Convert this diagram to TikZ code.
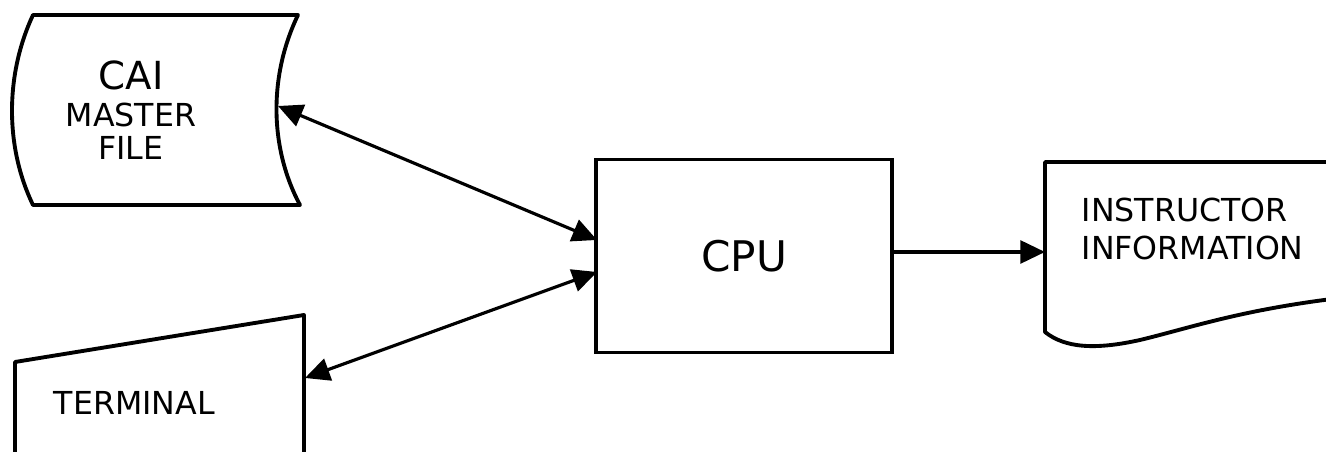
\documentclass[tikz,border=0pt]{standalone}
\usepackage{fontspec}
\setmainfont{DejaVu Sans}
\usetikzlibrary{calc,positioning,arrows.meta}
\tikzset{cpubox/.style={rectangle, draw=black, line width=1.1pt, minimum width=2.95cm,
  minimum height=1.93cm, inner sep=0pt, font=\fontsize{12}{14}\selectfont}}
\tikzset{shapeline/.style={draw=black, line width=1.1pt, line join=round}}
\tikzset{lbl/.style={inner sep=0pt, align=center, font=\fontsize{9}{9.5}\selectfont}}
\tikzset{link/.style={line width=0.9pt}}

\begin{document}
\begin{tikzpicture}[x=0.01cm, y=-0.01cm, >={Triangle[length=7pt,width=6.5pt]}]
  \useasboundingbox (0,0) rectangle (1326,452);
  \clip (0,0) rectangle (1326,452);
  % outlines
  \draw[shapeline] (33,15) -- (298,15) .. controls (269,75) and (269,147) .. (300,205)
    -- (33,205) .. controls (5,147) and (5,75) .. cycle;
  \draw[shapeline] (15,470) -- (15,362) -- (304,315) -- (304,470);
  \draw[shapeline] (1340,162) -- (1045,162) -- (1045,332)
    .. controls (1065,348) and (1095,350) .. (1140,340)
    .. controls (1190,328) and (1240,310) .. (1340,298);
  % blocks
  \node[lbl] (cai) at (131,110) {{\fontsize{11}{12}\selectfont CAI}\\[1pt] MASTER\\ FILE};
  \node[cpubox] (cpu) at (744,256) {CPU};
  \node[lbl, anchor=west] (term) at (53,403) {TERMINAL};
  \node[lbl, align=left, anchor=west, font=\fontsize{9}{10.8}\selectfont] (instr) at (1081,229) {INSTRUCTOR\\INFORMATION};
  % ports
  \coordinate (caiport) at (278,106);
  \coordinate (termport) at (305,378);
  \coordinate (cpuhi) at (597,240);
  \coordinate (cpulo) at (597,272);
  \coordinate (instrport) at (1045,252);
  \draw[link,<->] (caiport) -- (cpuhi);
  \draw[link,<->] (termport) -- (cpulo);
  \draw[link,->] (cpu.east |- instrport) -- (instrport);
\end{tikzpicture}
\end{document}
